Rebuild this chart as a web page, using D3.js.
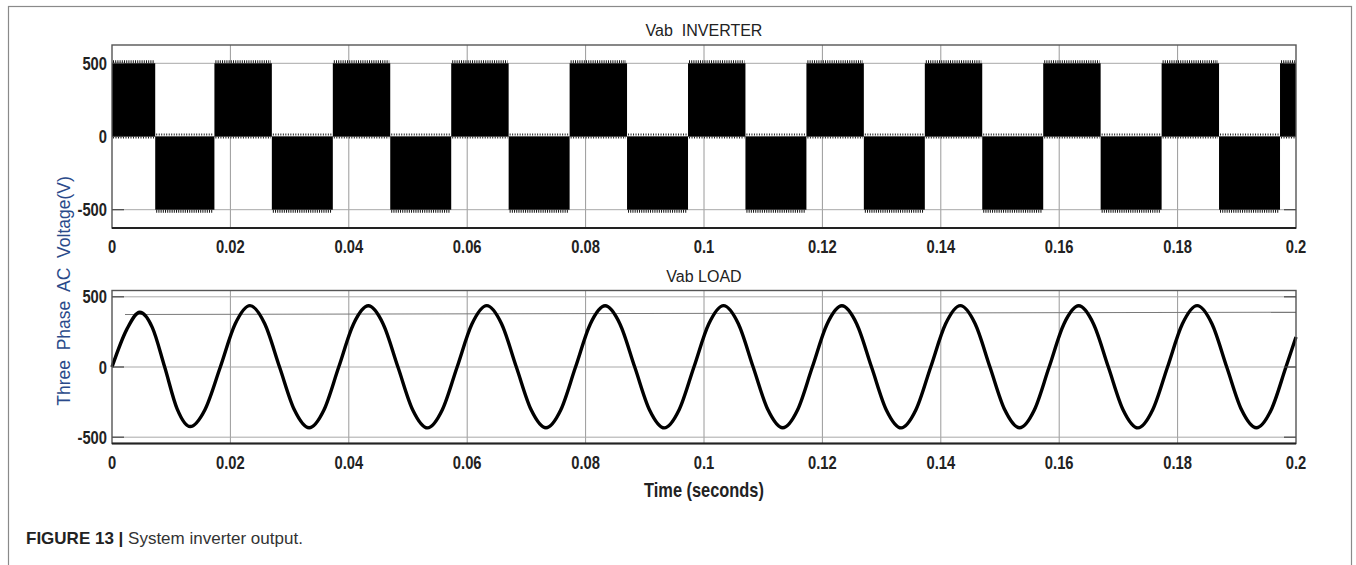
<!DOCTYPE html>
<html>
<head>
<meta charset="utf-8">
<script src="https://cdn.jsdelivr.net/npm/d3@7"></script>
<style>
  html, body { margin: 0; padding: 0; background: #fff; }
  svg { display: block; }
  .tick-lbl { font-family: "Liberation Sans", Arial, sans-serif; font-weight: bold; font-size: 18px; fill: #222; }
</style>
</head>
<body>
<svg id="chart" width="1356" height="565"></svg>
<script>
// ---------------- DATA ----------------
const xTicks = [0, 0.02, 0.04, 0.06, 0.08, 0.1, 0.12, 0.14, 0.16, 0.18, 0.2];
const xTickLabels = ["0", "0.02", "0.04", "0.06", "0.08", "0.1", "0.12", "0.14", "0.16", "0.18", "0.2"];
const yTicks = [-500, 0, 500];
const yTickLabels = ["-500", "0", "500"];

// Vab INVERTER: PWM blocks (start time, end time, level in V)
const invStart = [0, 0.0073, 0.0173, 0.0270, 0.0373, 0.0470, 0.0573, 0.0670, 0.0773, 0.0870, 0.0973,
                  0.1070, 0.1173, 0.1270, 0.1373, 0.1470, 0.1573, 0.1670, 0.1773, 0.1870, 0.1973];
const invEnd   = [0.0073, 0.0173, 0.0270, 0.0373, 0.0470, 0.0573, 0.0670, 0.0773, 0.0870, 0.0973, 0.1070,
                  0.1173, 0.1270, 0.1373, 0.1470, 0.1573, 0.1670, 0.1773, 0.1870, 0.1973, 0.2000];
const invLevel = [500, -500, 500, -500, 500, -500, 500, -500, 500, -500, 500,
                  -500, 500, -500, 500, -500, 500, -500, 500, -500, 500];

// Vab LOAD: sampled waveform (time in s, voltage in V)
const loadTime = [0, 0.0025, 0.0047, 0.0068, 0.0089, 0.0110, 0.0132, 0.0157,
  0.0183, 0.0208, 0.0233, 0.0258, 0.0283, 0.0308, 0.0333, 0.0358,
  0.0383, 0.0408, 0.0433, 0.0458, 0.0483, 0.0508, 0.0533, 0.0558,
  0.0583, 0.0608, 0.0633, 0.0658, 0.0683, 0.0708, 0.0733, 0.0758,
  0.0783, 0.0808, 0.0833, 0.0858, 0.0883, 0.0908, 0.0933, 0.0958,
  0.0983, 0.1008, 0.1033, 0.1058, 0.1083, 0.1108, 0.1133, 0.1158,
  0.1183, 0.1208, 0.1233, 0.1258, 0.1283, 0.1308, 0.1333, 0.1358,
  0.1383, 0.1408, 0.1433, 0.1458, 0.1483, 0.1508, 0.1533, 0.1558,
  0.1583, 0.1608, 0.1633, 0.1658, 0.1683, 0.1708, 0.1733, 0.1758,
  0.1783, 0.1808, 0.1833, 0.1858, 0.1883, 0.1908, 0.1933, 0.1958,
  0.1983, 0.2000];
const loadValue = [0, 268, 390, 282, 0, -298, -424, -304,
  0, 306, 437, 308, 0, -305, -433, -306,
  0, 307, 436, 307, 0, -306, -434, -305,
  0, 306, 437, 308, 0, -305, -433, -306,
  0, 307, 436, 307, 0, -306, -434, -305,
  0, 306, 437, 308, 0, -305, -433, -306,
  0, 307, 436, 307, 0, -306, -434, -305,
  0, 306, 437, 308, 0, -305, -433, -306,
  0, 307, 436, 307, 0, -306, -434, -305,
  0, 306, 437, 308, 0, -305, -433, -306,
  0, 214];

// thin reference trace visible in the load panel
const refTime = [0.0022, 0.2];
const refValue = [374, 390];

// ---------------- LAYOUT ----------------
const svg = d3.select("#chart");
const X0 = 112, X1 = 1296;
const top1 = 45, bot1 = 228;
const top2 = 290.5, bot2 = 443.5;
const NARROW = 0.82;

const x = d3.scaleLinear().domain([0, 0.2]).range([X0, X1]);
const y1 = d3.scaleLinear().domain([-625, 625]).range([bot1, top1]);
const y2 = d3.scaleLinear().domain([-545, 545]).range([bot2, top2]);

// outer frame
svg.append("rect").attr("x", 8.5).attr("y", 6.5).attr("width", 1343).attr("height", 580)
  .attr("fill", "none").attr("stroke", "#8a8a8a").attr("stroke-width", 1.2);

function panel(y, top, bot, title, titleY) {
  const g = svg.append("g");
  // grid
  g.selectAll(".vg").data(xTicks.slice(1, -1)).join("line")
    .attr("x1", d => x(d)).attr("x2", d => x(d)).attr("y1", top).attr("y2", bot)
    .attr("stroke", "#9a9a9a").attr("stroke-width", 1);
  g.selectAll(".hg").data(yTicks).join("line")
    .attr("x1", X0).attr("x2", X1).attr("y1", d => y(d)).attr("y2", d => y(d))
    .attr("stroke", "#a8a8a8").attr("stroke-width", 1);
  // tick labels (condensed bold)
  g.selectAll(".xl").data(xTicks).join("text").attr("class", "tick-lbl")
    .attr("transform", d => `translate(${x(d)},${bot + 25}) scale(${NARROW},1)`)
    .attr("text-anchor", "middle")
    .text((d, i) => xTickLabels[i]);
  g.selectAll(".yl").data(yTicks).join("text").attr("class", "tick-lbl")
    .attr("transform", d => `translate(${X0 - 5},${y(d) + 6.5}) scale(${NARROW},1)`)
    .attr("text-anchor", "end")
    .text((d, i) => yTickLabels[i]);
  // title
  svg.append("text").attr("x", (X0 + X1) / 2).attr("y", titleY).attr("text-anchor", "middle")
    .attr("font-family", "Liberation Sans, Arial, sans-serif").attr("font-size", 16)
    .attr("fill", "#222").style("white-space", "pre").text(title);
  return g;
}

function frame(y, top, bot) {
  const g = svg.append("g");
  g.selectAll(".yt").data(yTicks).join("line")
    .attr("x1", X0).attr("x2", X0 + 12).attr("y1", d => y(d)).attr("y2", d => y(d))
    .attr("stroke", "#444").attr("stroke-width", 1.2);
  g.selectAll(".yt2").data(yTicks).join("line")
    .attr("x1", X1 - 12).attr("x2", X1).attr("y1", d => y(d)).attr("y2", d => y(d))
    .attr("stroke", "#444").attr("stroke-width", 1.2);
  g.append("rect").attr("x", X0).attr("y", top).attr("width", X1 - X0).attr("height", bot - top)
    .attr("fill", "none").attr("stroke", "#555").attr("stroke-width", 1.4);
  g.append("line").attr("x1", X0).attr("x2", X1).attr("y1", bot).attr("y2", bot)
    .attr("stroke", "#222").attr("stroke-width", 1.8);
}

// ---- top panel ----
const p1 = panel(y1, top1, bot1, "Vab  INVERTER", 36);
const blocks = invStart.map((s, i) => ({ s, e: invEnd[i], v: invLevel[i] }));
p1.selectAll(".blk").data(blocks).join("rect")
  .attr("x", d => x(d.s)).attr("width", d => x(d.e) - x(d.s))
  .attr("y", d => Math.min(y1(d.v), y1(0))).attr("height", d => Math.abs(y1(d.v) - y1(0)))
  .attr("fill", "#000");
// serrated PWM edges
p1.selectAll(".edge").data(blocks).join("line")
  .attr("x1", d => x(d.s) + 1).attr("x2", d => x(d.e) - 1)
  .attr("y1", d => y1(d.v) + (d.v > 0 ? -1.5 : 1.5)).attr("y2", d => y1(d.v) + (d.v > 0 ? -1.5 : 1.5))
  .attr("stroke", "#111").attr("stroke-width", 3).attr("stroke-dasharray", "1 1.2");
p1.selectAll(".edge0").data(blocks).join("line")
  .attr("x1", d => x(d.s) + 1).attr("x2", d => x(d.e) - 1)
  .attr("y1", d => y1(0) + (d.v > 0 ? 1 : -2)).attr("y2", d => y1(0) + (d.v > 0 ? 1 : -2))
  .attr("stroke", "#222").attr("stroke-width", 2).attr("stroke-dasharray", "1 1.5");
frame(y1, top1, bot1);

// ---- bottom panel ----
const p2 = panel(y2, top2, bot2, "Vab LOAD", 282);
const refPts = refTime.map((t, i) => [t, refValue[i]]);
p2.append("path").datum(refPts)
  .attr("d", d3.line().x(d => x(d[0])).y(d => y2(d[1])))
  .attr("fill", "none").attr("stroke", "#7a7a7a").attr("stroke-width", 1.1);
const loadPts = loadTime.map((t, i) => [t, loadValue[i]]);
p2.append("path").datum(loadPts)
  .attr("d", d3.line().x(d => x(d[0])).y(d => y2(d[1])).curve(d3.curveMonotoneX))
  .attr("fill", "none").attr("stroke", "#000").attr("stroke-width", 3.4).attr("stroke-linejoin", "round");
frame(y2, top2, bot2);

// axis labels
svg.append("text").attr("class", "tick-lbl").style("font-size", "20px")
  .attr("transform", `translate(${(X0 + X1) / 2},497) scale(${NARROW},1)`)
  .attr("text-anchor", "middle").text("Time (seconds)");
svg.append("text").attr("transform", "translate(70,291) rotate(-90)").attr("text-anchor", "middle")
  .attr("font-family", "Liberation Sans, Arial, sans-serif").attr("font-size", 17.5)
  .attr("fill", "#2a4a8a").style("white-space", "pre").text("Three  Phase  AC  Voltage(V)");

// caption
const cap = svg.append("text").attr("x", 26).attr("y", 544)
  .attr("font-family", "Liberation Sans, Arial, sans-serif").attr("font-size", 17).attr("fill", "#222");
cap.append("tspan").attr("font-weight", "bold").text("FIGURE 13 | ");
cap.append("tspan").attr("fill", "#333").text("System inverter output.");
</script>
</body>
</html>
